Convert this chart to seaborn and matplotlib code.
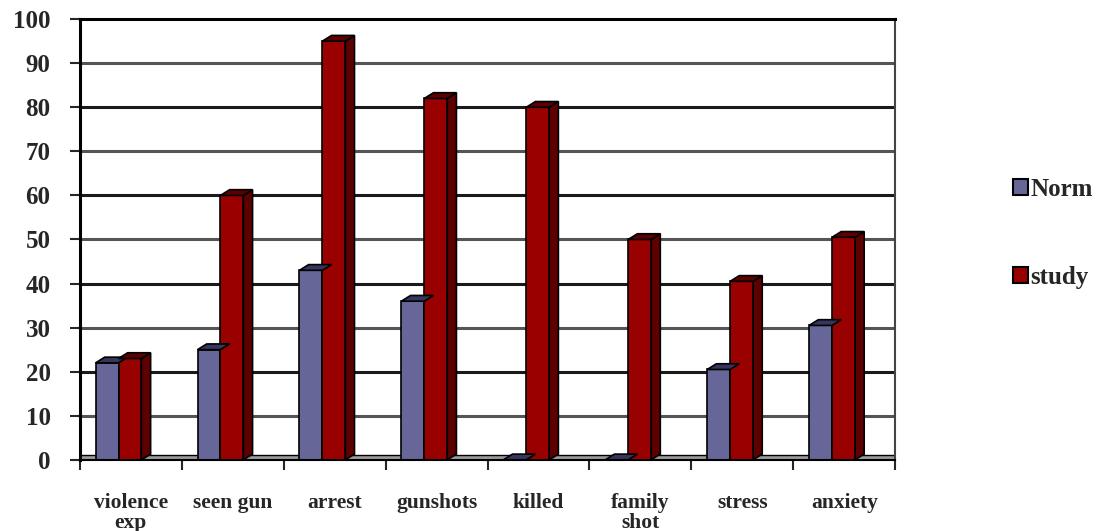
import numpy as np
import pandas as pd
import matplotlib.pyplot as plt
import seaborn as sns
from matplotlib.patches import Polygon, Patch
from matplotlib.ticker import FixedLocator

# values
categories = ["violence\nexp", "seen gun", "arrest", "gunshots",
              "killed", "family\nshot", "stress", "anxiety"]
norm_vals = [22, 25, 43, 36, 0, 0, 20.5, 30.5]
study_vals = [23, 60, 95, 82, 80, 50, 40.5, 50.5]
series = ["Norm", "study"]

FACE = {"Norm": "#666699", "study": "#990000"}
SIDE = {"Norm": "#35355e", "study": "#5c0000"}

df = pd.DataFrame({
    "category": categories * 2,
    "value": norm_vals + study_vals,
    "series": ["Norm"] * len(categories) + ["study"] * len(categories),
})

sns.set_style("white")
plt.rcParams["font.family"] = ["Liberation Serif", "DejaVu Serif"]
plt.rcParams["font.weight"] = "bold"

fig = plt.figure(figsize=(11.08, 5.31), dpi=100)
ax = fig.add_axes([0.072, 0.134, 0.736, 0.83])

# back-wall grid and floor
for y in range(10, 100, 10):
    ax.axhline(y, color="#1a1a1a" if (y // 10) % 2 == 0 else "#555555", lw=2.2, zorder=0)
ax.axhspan(0, 1.2, color="#9a9a9a", ec="black", lw=1, zorder=0.5)

sns.barplot(data=df, x="category", y="value", hue="series", order=categories,
            hue_order=series, palette=FACE, saturation=1, width=0.45,
            edgecolor="black", linewidth=1.2, legend=False, ax=ax, zorder=2)

# fake 3D: bars sit a little left of the label (perspective), plus side/top faces
shift, dx, dy = 0.12, 0.09, 1.3
n = len(categories)
for s, cont in zip(series, ax.containers):
    for p in cont.patches:
        h = p.get_height()
        h = 0 if not h or np.isnan(h) else h
        p.set_x(p.get_x() - shift)
        x0 = p.get_x()
        x1 = x0 + p.get_width()
        top = Polygon([(x0, h), (x0 + dx, h + dy), (x1 + dx, h + dy), (x1, h)],
                      closed=True, fc=SIDE[s], ec="black", lw=1.2, zorder=2.1)
        ax.add_patch(top)
        if h > 0:
            side = Polygon([(x1, 0), (x1 + dx, dy), (x1 + dx, h + dy), (x1, h)],
                           closed=True, fc=SIDE[s], ec="black", lw=1.2, zorder=1.9)
            ax.add_patch(side)

ax.set_ylim(0, 100)
ax.set_xlim(-0.5, n - 0.5)
ax.set_yticks(range(0, 101, 10))
ax.set_xlabel("")
ax.set_ylabel("")

ax.tick_params(axis="y", which="major", direction="out", length=7, width=1.5,
               labelsize=18, pad=14, left=True)
ax.tick_params(axis="x", which="major", length=0, labelsize=15.5, pad=24)
ax.xaxis.set_minor_locator(FixedLocator(np.arange(-0.5, n, 1.0)))
ax.tick_params(axis="x", which="minor", direction="out", length=7, width=1.5, bottom=True)
for lab in ax.get_xticklabels() + ax.get_yticklabels():
    lab.set_fontweight("bold")
    lab.set_linespacing(1.0)

for side_name, sp in ax.spines.items():
    sp.set_visible(True)
    sp.set_color("black" if side_name != "right" else "#444444")
    sp.set_linewidth(2.2 if side_name in ("left", "top") else 1.5)

handles = [Patch(fc=FACE[s], ec="black", lw=1.5, label=s) for s in series]
fig.legend(handles=handles, loc="center left", bbox_to_anchor=(0.894, 0.56),
           frameon=False, handlelength=0.6, handleheight=0.6,
           handletextpad=0.1, labelspacing=2.6, prop={"weight": "bold", "size": 18})

fig.savefig("out.png", dpi=100)
